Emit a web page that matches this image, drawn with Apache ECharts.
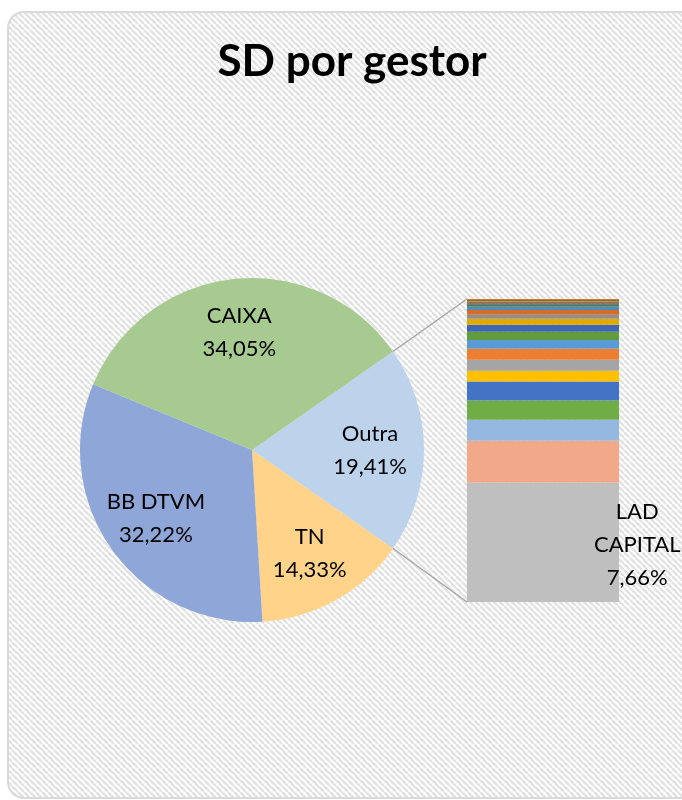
<!DOCTYPE html>
<html>
<head>
<meta charset="utf-8">
<script src="https://cdn.jsdelivr.net/npm/echarts@6/dist/echarts.min.js"></script>
<style>
  html, body { margin: 0; padding: 0; background: #fff; }
  #chart { width: 682px; height: 800px; }
</style>
</head>
<body>
<div id="chart"></div>
<script>
// main pie, clockwise from the secondary slice ("Outra")
const pieNames = ['Outra', 'TN', 'BB DTVM', 'CAIXA'];
const pieValues = [19.41, 14.33, 32.22, 34.05];
const pieColors = ['#BDD3EC', '#FFD38A', '#8FA7D8', '#A7CA90'];

// breakdown of "Outra", from bottom to top of the bar
const barNames = ['LAD CAPITAL', 'G2', 'G3', 'G4', 'G5', 'G6', 'G7', 'G8', 'G9', 'G10',
  'G11', 'G12', 'G13', 'G14', 'G15', 'G16', 'G17', 'G18', 'G19', 'G20', 'G21'];
const barValues = [7.66, 2.67, 1.35, 1.22, 1.22, 0.70, 0.70, 0.70, 0.56, 0.53,
  0.45, 0.38, 0.26, 0.30, 0.21, 0.13, 0.09, 0.08, 0.07, 0.07, 0.06];
const barColors = ['#BFBFBF', '#F1A98A', '#95B8E1', '#70AD47', '#4472C4', '#FFC000',
  '#A5A5A5', '#ED7D31', '#5B9BD5', '#629C3F', '#3F66B0', '#E2AA00', '#8F8F8F',
  '#D26D2A', '#4F8AC0', '#557F37', '#3A5C9E', '#B06A2A', '#C99A00', '#6E6E6E', '#D0763A'];

const FONT = 'Lato, "Open Sans", sans-serif';
const PIE_CENTER = [252, 450];
const PIE_R = 172;
const LABEL_SIZE = 22;

const fmtPct = (v) => v.toFixed(2).replace('.', ',') + '%';
const barTotal = barValues.reduce((a, b) => a + b, 0);
// secondary slice centred on the right side
const startAngle = pieValues[0] / 100 * 360 / 2;

// striped background tile
function stripeTile() {
  const s = 6;
  const c = document.createElement('canvas');
  c.width = s;
  c.height = s;
  const ctx = c.getContext('2d');
  ctx.fillStyle = '#ffffff';
  ctx.fillRect(0, 0, s, s);
  ctx.strokeStyle = '#E2E2E2';
  ctx.lineWidth = 2.4;
  for (let k = -1; k <= 1; k++) {
    ctx.beginPath();
    ctx.moveTo(k * s, 0);
    ctx.lineTo(k * s + s, s);
    ctx.stroke();
  }
  return c;
}

const chart = echarts.init(document.getElementById('chart'));

const pieData = pieNames.map((name, i) => ({
  name: name,
  value: pieValues[i],
  itemStyle: {color: pieColors[i]}
}));

const barSeries = barNames.map((name, i) => ({
  type: 'bar',
  name: name,
  stack: 'outra',
  barWidth: '100%',
  silent: true,
  data: [barValues[i]],
  itemStyle: {color: barColors[i]},
  label: {
    show: i === 0,
    position: ['112%', '52%'],
    align: 'center',
    verticalAlign: 'middle',
    fontFamily: FONT,
    fontSize: LABEL_SIZE,
    lineHeight: 33,
    color: '#000',
    formatter: (p) => p.seriesName.replace(' ', '\n') + '\n' + fmtPct(p.value)
  }
}));

const background = {
  type: 'rect',
  z: -10,
  shape: {x: 8, y: 12, width: 740, height: 786, r: 16},
  style: {
    fill: {image: stripeTile(), repeat: 'repeat'},
    stroke: '#D9D9D9',
    lineWidth: 2
  }
};

chart.setOption({
  animation: false,
  title: {
    text: 'SD por gestor',
    left: 347,
    top: 35,
    textAlign: 'center',
    textStyle: {fontFamily: FONT, fontSize: 44, fontWeight: 'bold', color: '#000'}
  },
  graphic: [background],
  grid: {left: 467, top: 299, width: 152, height: 303},
  xAxis: {type: 'category', data: ['Outra'], show: false},
  yAxis: {type: 'value', min: 0, max: barTotal, show: false},
  series: [
    {
      type: 'pie',
      center: PIE_CENTER,
      radius: PIE_R,
      startAngle: startAngle,
      clockwise: true,
      silent: true,
      label: {show: false},
      labelLine: {show: false},
      data: pieData
    },
    {
      // label-only ring, puts labels further out than the default midpoint
      type: 'pie',
      center: PIE_CENTER,
      radius: [58, PIE_R],
      startAngle: startAngle,
      clockwise: true,
      silent: true,
      itemStyle: {color: 'rgba(0,0,0,0)'},
      label: {
        position: 'inside',
        fontFamily: FONT,
        fontSize: LABEL_SIZE,
        lineHeight: 33,
        color: '#000',
        formatter: (p) => p.name + '\n' + fmtPct(p.value)
      },
      labelLine: {show: false},
      data: pieNames.map((name, i) => ({name: name, value: pieValues[i]}))
    },
    ...barSeries
  ]
});

// connector lines from the secondary slice to the bar corners
const half = startAngle * Math.PI / 180;
const px = PIE_CENTER[0] + PIE_R * Math.cos(half);
const pyTop = PIE_CENTER[1] - PIE_R * Math.sin(half);
const pyBottom = PIE_CENTER[1] + PIE_R * Math.sin(half);
const barLeft = 467;
const barTop = chart.convertToPixel({yAxisIndex: 0}, barTotal);
const barBottom = chart.convertToPixel({yAxisIndex: 0}, 0);

chart.setOption({
  graphic: [
    background,
    {
      type: 'line',
      z: 10,
      shape: {x1: px, y1: pyTop, x2: barLeft, y2: barTop},
      style: {stroke: '#A6A6A6', lineWidth: 1.5}
    },
    {
      type: 'line',
      z: 10,
      shape: {x1: px, y1: pyBottom, x2: barLeft, y2: barBottom},
      style: {stroke: '#A6A6A6', lineWidth: 1.5}
    }
  ]
}, {replaceMerge: ['graphic']});
</script>
</body>
</html>
